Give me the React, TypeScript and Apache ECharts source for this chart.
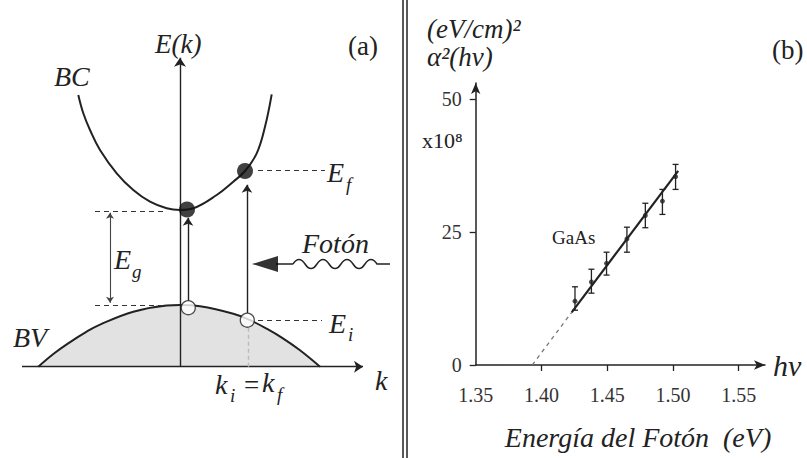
import React, { useEffect, useRef } from "react";
import * as echarts from "echarts";

// ---------- Panel (b): GaAs absorption, alpha^2 vs photon energy ----------
const photonEnergy = [1.4255, 1.438, 1.4495, 1.465, 1.479, 1.492, 1.502];
const alphaSquared = [12.0, 15.6, 19.1, 23.7, 28.1, 30.8, 35.4];
const errLow = [10.3, 13.5, 16.9, 21.2, 25.8, 28.3, 33.0];
const errHigh = [14.7, 18.0, 21.2, 25.9, 30.4, 33.0, 37.7];
const fitSolid = [[1.423, 9.9], [1.504, 36.5]];
const fitExtrapolated = [[1.393, 0], [1.423, 9.9]];
const xTickValues = [1.35, 1.4, 1.45, 1.5, 1.55];
const yTickValues = [0, 25, 50];

// ---------- Panel (a): band diagram in (k, E) arbitrary units ----------
const conductionBand = [
  [-1.017, 2.717], [-0.967, 2.534], [-0.9, 2.367], [-0.8, 2.167], [-0.633, 1.934],
  [-0.467, 1.767], [-0.3, 1.65], [-0.133, 1.584], [0, 1.567], [0.133, 1.584],
  [0.367, 1.717], [0.533, 1.85], [0.65, 1.957], [0.767, 2.134], [0.85, 2.4], [0.917, 2.724],
];
const valenceBand = [
  [-1.417, 0], [-1.267, 0.127], [-1.133, 0.224], [-0.933, 0.351], [-0.8, 0.421],
  [-0.467, 0.55], [-0.133, 0.612], [0, 0.617], [0.2, 0.604], [0.533, 0.53],
  [0.683, 0.474], [0.867, 0.38], [1.033, 0.281], [1.2, 0.164], [1.4, 0],
];
const electronStates = [[0.07, 1.572], [0.65, 1.957]];
const holeStates = [[0.083, 0.59], [0.673, 0.465]];
const energyAxis = [[0, 0], [0, 3.09]];
const kAxis = [[-1.58, 0], [1.83, 0]];
const transitions = [
  [[0.08, 0.657], [0.08, 1.49]],
  [[0.67, 0.537], [0.67, 1.82]],
];
const gapArrow = [[-0.7, 0.64], [-0.7, 1.54]];
const levelGuides = [
  [[0.78, 1.967], [1.45, 1.967]],
  [[-0.85, 1.557], [-0.15, 1.557]],
  [[-0.85, 0.617], [-0.15, 0.617]],
  [[0.78, 0.467], [1.42, 0.467]],
];
const kGuide = [[0.68, 0], [0.68, 0.39]];
const photonHead = [[0.85, 1.027]];
const photonShaft = [[0.96, 1.027], [1.13, 1.027]];

const SERIF = "Liberation Serif";
const INK = "#222";

function txt(text: string, x: number, y: number, size: number, italic = true, align = "left") {
  return {
    type: "text",
    x,
    y,
    silent: true,
    style: {
      text,
      fontFamily: SERIF,
      fontSize: size,
      fontStyle: italic ? "italic" : "normal",
      fill: INK,
      align,
      verticalAlign: "middle",
    },
  };
}

export default function App() {
  const ref = useRef<HTMLDivElement>(null);
  useEffect(() => {
    if (!ref.current) return;
    const WaveCls = echarts.graphic.extendPath(
      "M0,0q6,-9,12,0t12,0t12,0t12,0t12,0t12,0t12,0l13,0",
      {}
    );
    echarts.graphic.registerShape("photonWave", WaveCls as any);

    const chart = echarts.init(ref.current, undefined, { renderer: "svg" });
    const thin = { color: INK, width: 1.4 };

    const option: any = {
      animation: false,
      backgroundColor: "#fff",
      textStyle: { fontFamily: SERIF },
      grid: [
        { left: 475.7, top: 83, width: 289.3, height: 282 },
        { left: 0, top: 6.7, width: 400, height: 400 },
      ],
      xAxis: [
        {
          type: "value",
          gridIndex: 0,
          min: 1.35,
          max: 1.57,
          interval: 0.05,
          splitLine: { show: false },
          axisLine: { show: true, lineStyle: { color: INK, width: 1.5 }, symbol: ["none", "arrow"], symbolSize: [7, 11] },
          axisTick: { show: true, customValues: xTickValues.slice(1), length: 6, lineStyle: { color: INK, width: 1.3 } },
          axisLabel: {
            customValues: xTickValues,
            formatter: (v: number) => v.toFixed(2),
            fontFamily: SERIF,
            fontSize: 20,
            color: "#333",
            margin: 20,
          },
        },
        { type: "value", gridIndex: 1, min: -1.8, max: 2.2, show: false },
      ],
      yAxis: [
        {
          type: "value",
          gridIndex: 0,
          min: 0,
          max: 53,
          splitLine: { show: false },
          axisLine: { show: true, lineStyle: { color: INK, width: 1.5 }, symbol: ["none", "arrow"], symbolSize: [7, 11] },
          axisTick: { show: true, customValues: yTickValues, length: 6, lineStyle: { color: INK, width: 1.3 } },
          axisLabel: { customValues: yTickValues, fontFamily: SERIF, fontSize: 20, color: "#333", margin: 14 },
        },
        { type: "value", gridIndex: 1, min: -0.4, max: 3.6, show: false },
      ],
      series: [
        // ----- panel (b) -----
        {
          type: "line",
          xAxisIndex: 0,
          yAxisIndex: 0,
          data: fitExtrapolated,
          symbol: "none",
          lineStyle: { color: "#777", width: 1.3, type: [4, 4] },
        },
        {
          type: "line",
          xAxisIndex: 0,
          yAxisIndex: 0,
          data: fitSolid,
          symbol: "none",
          lineStyle: { color: INK, width: 2.2 },
        },
        {
          type: "custom",
          xAxisIndex: 0,
          yAxisIndex: 0,
          data: photonEnergy.map((x, i) => [x, alphaSquared[i], errLow[i], errHigh[i]]),
          encode: { x: 0, y: 1 },
          renderItem: (_p: any, api: any) => {
            const x = api.value(0);
            const lo = api.coord([x, api.value(2)]);
            const hi = api.coord([x, api.value(3)]);
            const c = 3;
            const st = { stroke: INK, lineWidth: 1.3 };
            return {
              type: "group",
              children: [
                { type: "line", shape: { x1: lo[0], y1: lo[1], x2: hi[0], y2: hi[1] }, style: st },
                { type: "line", shape: { x1: lo[0] - c, y1: lo[1], x2: lo[0] + c, y2: lo[1] }, style: st },
                { type: "line", shape: { x1: hi[0] - c, y1: hi[1], x2: hi[0] + c, y2: hi[1] }, style: st },
              ],
            };
          },
          z: 3,
        },
        {
          type: "scatter",
          xAxisIndex: 0,
          yAxisIndex: 0,
          data: photonEnergy.map((x, i) => [x, alphaSquared[i]]),
          symbol: "circle",
          symbolSize: 5,
          itemStyle: { color: INK },
          z: 4,
        },
        // ----- panel (a) -----
        {
          type: "line",
          xAxisIndex: 1,
          yAxisIndex: 1,
          data: valenceBand,
          smooth: 0.4,
          symbol: "none",
          lineStyle: { color: INK, width: 2 },
          areaStyle: { color: "#e2e2e2", opacity: 1 },
          z: 1,
        },
        {
          type: "line",
          xAxisIndex: 1,
          yAxisIndex: 1,
          data: conductionBand,
          smooth: 0.4,
          symbol: "none",
          lineStyle: { color: INK, width: 2 },
          z: 2,
        },
        {
          type: "lines",
          coordinateSystem: "cartesian2d",
          xAxisIndex: 1,
          yAxisIndex: 1,
          data: [{ coords: energyAxis }, { coords: kAxis }],
          symbol: ["none", "arrow"],
          symbolSize: 9,
          lineStyle: { ...thin, opacity: 1 },
          z: 3,
        },
        {
          type: "lines",
          coordinateSystem: "cartesian2d",
          xAxisIndex: 1,
          yAxisIndex: 1,
          data: transitions.map((c) => ({ coords: c })),
          symbol: ["none", "arrow"],
          symbolSize: 8,
          lineStyle: { ...thin, opacity: 1 },
          z: 3,
        },
        {
          type: "lines",
          coordinateSystem: "cartesian2d",
          xAxisIndex: 1,
          yAxisIndex: 1,
          data: [{ coords: gapArrow }],
          symbol: ["arrow", "arrow"],
          symbolSize: 6,
          lineStyle: { color: "#444", width: 1.1, opacity: 1 },
          z: 3,
        },
        {
          type: "lines",
          coordinateSystem: "cartesian2d",
          xAxisIndex: 1,
          yAxisIndex: 1,
          data: levelGuides.map((c) => ({ coords: c })),
          symbol: "none",
          lineStyle: { color: "#333", width: 1.2, type: [5, 4], opacity: 1 },
          z: 3,
        },
        {
          type: "lines",
          coordinateSystem: "cartesian2d",
          xAxisIndex: 1,
          yAxisIndex: 1,
          data: [{ coords: kGuide }],
          symbol: "none",
          lineStyle: { color: "#bbb", width: 1.4, type: [4, 3], opacity: 1 },
          z: 3,
        },
        {
          type: "line",
          xAxisIndex: 1,
          yAxisIndex: 1,
          data: photonShaft,
          symbol: "none",
          lineStyle: { color: INK, width: 1.5 },
          z: 3,
        },
        {
          type: "scatter",
          xAxisIndex: 1,
          yAxisIndex: 1,
          data: photonHead,
          symbol: "triangle",
          symbolSize: [16, 26],
          symbolRotate: 90,
          itemStyle: { color: "#000" },
          z: 4,
        },
        {
          type: "scatter",
          xAxisIndex: 1,
          yAxisIndex: 1,
          data: electronStates,
          symbol: "circle",
          symbolSize: 16,
          itemStyle: { color: "#111" },
          z: 5,
        },
        {
          type: "scatter",
          xAxisIndex: 1,
          yAxisIndex: 1,
          data: holeStates,
          symbol: "circle",
          symbolSize: 14,
          itemStyle: { color: "#fff", borderColor: INK, borderWidth: 1.3 },
          z: 5,
        },
      ],
      graphic: [
        { type: "line", shape: { x1: 403, y1: 0, x2: 403, y2: 458 }, style: { stroke: INK, lineWidth: 1.5 } },
        { type: "line", shape: { x1: 407, y1: 0, x2: 407, y2: 458 }, style: { stroke: INK, lineWidth: 1.5 } },
        { type: "photonWave", x: 293, y: 264, style: { stroke: INK, fill: null, lineWidth: 1.5 } },
        // panel (a) labels
        txt("E(k)", 155, 44, 27),
        txt("(a)", 348, 46, 27, false),
        txt("BC", 54, 76, 28),
        txt("E", 327, 172, 28),
        txt("f", 346, 184, 19),
        txt("E", 114, 259, 28),
        txt("g", 132, 271, 19),
        txt("Fotón", 302, 243, 28),
        txt("BV", 13, 337, 28),
        txt("E", 329, 323, 28),
        txt("i", 348, 334, 19),
        txt("k", 215, 384, 28),
        txt("i", 230, 395, 19),
        txt("=", 244, 385, 27, false),
        txt("k", 262, 382, 28),
        txt("f", 277, 394, 19),
        txt("k", 375, 380, 28),
        // panel (b) labels
        txt("(eV/cm)²", 427, 29, 27),
        txt("α²(hν)", 427, 57, 27),
        txt("(b)", 772, 50, 27, false),
        txt("x10⁸", 422, 140, 22, false),
        txt("GaAs", 552, 237, 19, false),
        txt("hν", 773, 365, 30),
        txt("Energía del Fotón  (eV)", 638, 437, 28, true, "center"),
      ],
    };
    chart.setOption(option);
    return () => chart.dispose();
  }, []);
  return <div ref={ref} style={{ width: 807, height: 458, position: "absolute", left: 0, top: 0 }} />;
}
